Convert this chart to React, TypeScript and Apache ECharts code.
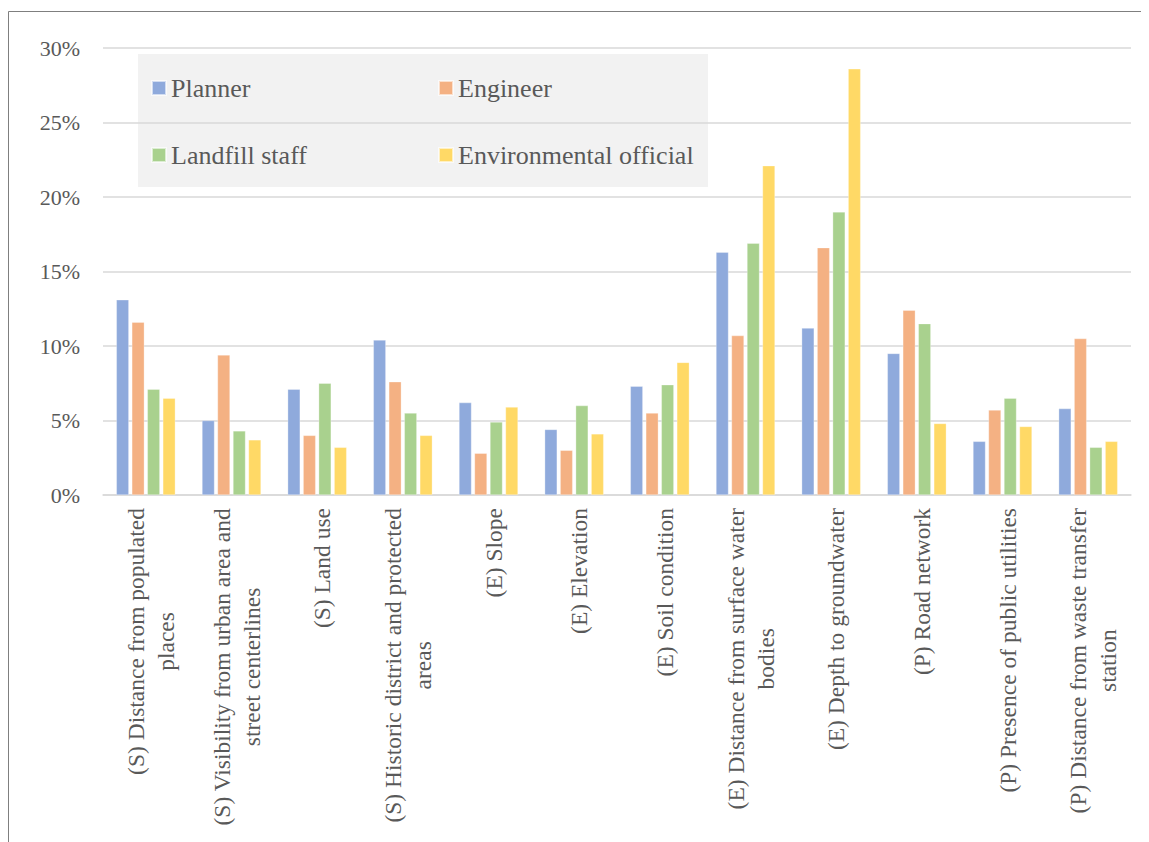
import React, { useEffect, useRef } from "react";
import * as echarts from "echarts";

// Criteria (line breaks follow the two-line wrapping of the long names)
const categories = [
  "(S) Distance from populated\nplaces",
  "(S) Visibility from urban area and\nstreet centerlines",
  "(S) Land use",
  "(S) Historic district and protected\nareas",
  "(E) Slope",
  "(E) Elevation",
  "(E) Soil condition",
  "(E) Distance from surface water\nbodies",
  "(E) Depth to groundwater",
  "(P) Road network",
  "(P) Presence of public utilities",
  "(P) Distance from waste transfer\nstation",
];

const seriesNames = ["Planner", "Engineer", "Landfill staff", "Environmental official"];

// Weights in percent
const planner = [13.1, 5.0, 7.1, 10.4, 6.2, 4.4, 7.3, 16.3, 11.2, 9.5, 3.6, 5.8];
const engineer = [11.6, 9.4, 4.0, 7.6, 2.8, 3.0, 5.5, 10.7, 16.6, 12.4, 5.7, 10.5];
const landfillStaff = [7.1, 4.3, 7.5, 5.5, 4.9, 6.0, 7.4, 16.9, 19.0, 11.5, 6.5, 3.2];
const environmentalOfficial = [6.5, 3.7, 3.2, 4.0, 5.9, 4.1, 8.9, 22.1, 28.6, 4.8, 4.6, 3.6];

const colors = ["#8faadc", "#f4b183", "#a9d18e", "#ffd966"];

const yMin = 0;
const yMax = 30;
const yStep = 5;

const FONT = "Liberation Serif";
const TEXT = "#595959";
const GRID = "#d9d9d9";

export default function App() {
  const ref = useRef<HTMLDivElement>(null);

  useEffect(() => {
    if (!ref.current) return;
    const chart = echarts.init(ref.current, undefined, { renderer: "svg" });
    const values = [planner, engineer, landfillStaff, environmentalOfficial];

    chart.setOption({
      animation: false,
      backgroundColor: "#ffffff",
      textStyle: { fontFamily: FONT },
      graphic: [
        {
          type: "rect",
          silent: true,
          shape: { x: 0.5, y: 3.5, width: 1300, height: 1000 },
          style: { fill: "none", stroke: "#7f7f7f", lineWidth: 1 },
        },
      ],
      grid: { left: 95, right: 18, top: 40, bottom: 347, containLabel: false },
      legend: {
        data: seriesNames,
        left: 130,
        top: 46,
        width: 560,
        padding: [9, 0, 7, 13],
        backgroundColor: "rgba(217,217,217,0.35)",
        icon: "rect",
        itemWidth: 14,
        itemHeight: 14,
        itemGap: 17,
        textStyle: {
          fontFamily: FONT,
          fontSize: 26,
          color: TEXT,
          width: 250,
          lineHeight: 50,
        },
      },
      xAxis: {
        type: "category",
        data: categories,
        axisLine: { lineStyle: { color: GRID, width: 1.5 } },
        axisTick: { show: false },
        axisLabel: {
          interval: 0,
          rotate: 90,
          margin: 13,
          padding: [10, 0, 0, 0],
          fontFamily: FONT,
          fontSize: 23.5,
          color: TEXT,
          formatter: (v: string) =>
            v
              .split("\n")
              .map((l) => `{c|${l}}`)
              .join("\n"),
          rich: {
            c: {
              align: "center",
              fontFamily: FONT,
              fontSize: 23.5,
              lineHeight: 30,
              color: TEXT,
            },
          },
        },
      },
      yAxis: {
        type: "value",
        min: yMin,
        max: yMax,
        interval: yStep,
        axisLine: { show: false },
        axisTick: { show: false },
        splitLine: { lineStyle: { color: GRID, width: 1.5 } },
        axisLabel: {
          formatter: "{value}%",
          fontFamily: FONT,
          fontSize: 22,
          color: TEXT,
          margin: 23,
        },
      },
      series: seriesNames.map((name, i) => ({
        name,
        type: "bar",
        data: values[i],
        barWidth: 12.5,
        barGap: "24%",
        itemStyle: {
          color: colors[i],
          borderColor: "rgba(255,255,255,0.6)",
          borderWidth: 0.5,
        },
      })),
    });

    return () => chart.dispose();
  }, []);

  return <div ref={ref} style={{ width: 1141, height: 834 }} />;
}
